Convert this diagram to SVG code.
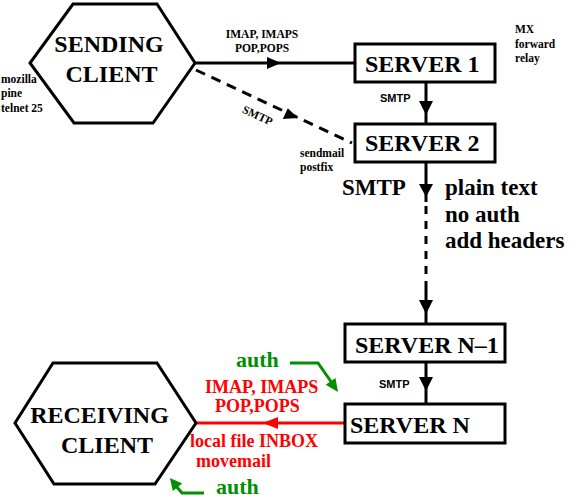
<svg xmlns="http://www.w3.org/2000/svg" width="577" height="498" viewBox="0 0 577 498">
<style>
.shape{fill:#fff;stroke:#000;stroke-width:3;stroke-linejoin:miter}
text{font-family:"Liberation Serif","Times New Roman","DejaVu Serif",serif;font-weight:bold}
.big{font-size:24px;fill:#000}
.mid{font-size:23px;fill:#000}
.small{font-size:11.5px;fill:#000}
.ssans{font-family:"Liberation Sans",Arial,sans-serif;font-size:11px;fill:#000}
.red{font-size:18px;fill:#ff0000}
.green{font-size:22px;fill:#009000}
.ln{fill:none;stroke:#000;stroke-width:3}
.dash{fill:none;stroke:#000;stroke-width:3;stroke-dasharray:10 7}
.rln{fill:none;stroke:#ff0000;stroke-width:3}
.gln{fill:none;stroke:#009000;stroke-width:3}
.ah{fill:#000}
.rah{fill:#ff0000}
.gah{fill:#009000}
</style>
<rect width="577" height="498" fill="#fff"/>
<g id="connectors">
<line class="ln" x1="195" y1="63" x2="355" y2="63"/>
<polygon class="ah" points="267,57 281,63 267,69"/>
<line class="dash" x1="196" y1="70" x2="352" y2="143"/>
<polygon class="ah" points="287.8,108.2 298,118 282.8,119"/>
<line class="ln" x1="426" y1="82" x2="426" y2="124"/>
<polygon class="ah" points="419,101 433,101 426,115"/>
<line class="ln" x1="426" y1="162" x2="426" y2="202"/>
<polygon class="ah" points="419,184 433,184 426,197"/>
<line class="dash" x1="426" y1="206" x2="426" y2="285" style="stroke-dasharray:8 7"/>
<line class="ln" x1="426" y1="285" x2="426" y2="324"/>
<polygon class="ah" points="419,300 433,300 426,314"/>
<line class="ln" x1="426" y1="362" x2="426" y2="404"/>
<polygon class="ah" points="419,377 433,377 426,391"/>
<line class="rln" x1="345" y1="423" x2="196" y2="423"/>
<polygon class="rah" points="278,417 278,429 263,423"/>
<polyline class="gln" points="290,363 318,363 332,383"/>
<polygon class="gah" points="325.7,384.7 338,392 335.5,377.9"/>
<polyline class="gln" points="204,493 182,493 176,486"/>
<polygon class="gah" points="182.2,483.6 170,478 172.8,491.1"/>
</g>
<g id="sending-client">
<polygon class="shape" points="73,4 157,4 195,63 153,123 74,123 30,63"/>
<text class="big" x="109" y="52" text-anchor="middle">SENDING</text>
<text class="big" x="111.5" y="82" text-anchor="middle">CLIENT</text>
</g>
<g id="sending-client-notes">
<text class="small" x="1" y="83">mozilla</text>
<text class="small" x="1" y="97">pine</text>
<text class="small" x="1" y="112">telnet 25</text>
</g>
<g id="label-imap-top">
<text class="small" x="262" y="38" text-anchor="middle">IMAP, IMAPS</text>
<text class="small" x="262" y="52" text-anchor="middle">POP,POPS</text>
</g>
<g id="label-smtp-diag">
<text class="small" x="0" y="0" text-anchor="middle" transform="translate(256,119) rotate(25)">SMTP</text>
</g>
<g id="server1">
<rect class="shape" x="355" y="44" width="140" height="38"/>
<text class="big" x="365" y="72">SERVER 1</text>
</g>
<g id="server1-notes">
<text class="small" x="515" y="33">MX</text>
<text class="small" x="515" y="48">forward</text>
<text class="small" x="515" y="62">relay</text>
</g>
<g id="label-smtp-1">
<text class="ssans" x="380" y="102">SMTP</text>
</g>
<g id="server2">
<rect class="shape" x="355" y="124" width="140" height="38"/>
<text class="big" x="365" y="151">SERVER 2</text>
</g>
<g id="server2-notes">
<text class="small" x="300" y="157">sendmail</text>
<text class="small" x="300" y="171">postfix</text>
</g>
<g id="label-smtp-big">
<text class="mid" x="342" y="195">SMTP</text>
<text class="mid" x="445" y="195">plain text</text>
<text class="mid" x="445" y="222">no auth</text>
<text class="mid" x="445" y="248">add headers</text>
</g>
<g id="serverN-1">
<rect class="shape" x="345" y="324" width="160" height="38"/>
<text class="big" x="355" y="353">SERVER N–1</text>
</g>
<g id="label-smtp-2">
<text class="ssans" x="379" y="388">SMTP</text>
</g>
<g id="serverN">
<rect class="shape" x="345" y="404" width="160" height="39"/>
<text class="big" x="350" y="433">SERVER N</text>
</g>
<g id="label-retrieve">
<text class="red" x="205" y="393">IMAP, IMAPS</text>
<text class="red" x="215" y="412">POP,POPS</text>
<text class="red" x="190" y="447">local file INBOX</text>
<text class="red" x="196" y="467">movemail</text>
</g>
<g id="label-auth">
<text class="green" x="236" y="367">auth</text>
<text class="green" x="216" y="494">auth</text>
</g>
<g id="receiving-client">
<polygon class="shape" points="53,363 157,363 196,423 155,484 54,484 15,423"/>
<text class="big" x="99.5" y="423" text-anchor="middle">RECEIVING</text>
<text class="big" x="107" y="453" text-anchor="middle">CLIENT</text>
</g>
</svg>
